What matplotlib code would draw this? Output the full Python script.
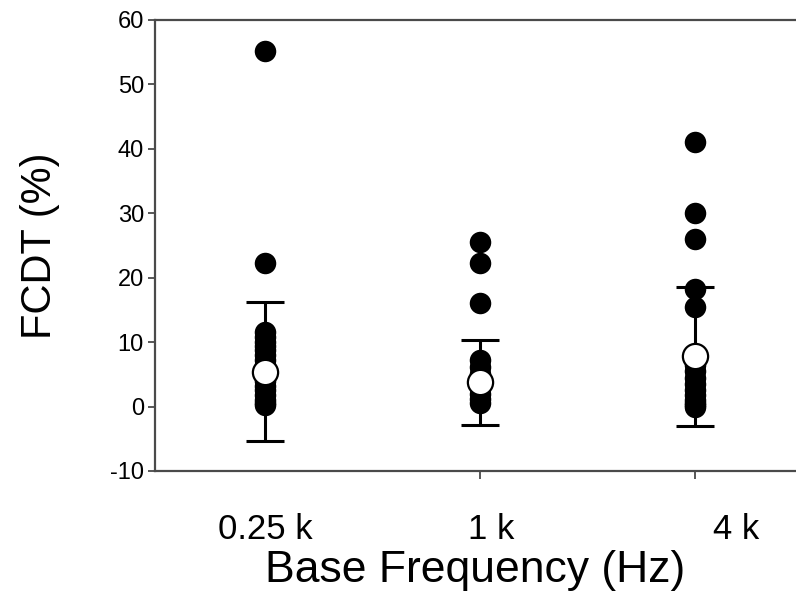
import matplotlib.pyplot as plt

plt.rcParams['font.family'] = ['Liberation Sans', 'DejaVu Sans']
plt.rcParams['axes.unicode_minus'] = False

categorias = ['0.25 k', '1 k', '4 k']

# puntos individuales (FCDT %)
puntos_025k = [55.2, 22.3, 11.5, 10.8, 10.0, 9.4, 8.8, 8.0, 7.3, 6.5, 5.6,
               4.8, 4.0, 3.2, 2.5, 1.8, 1.0, 0.5, 0.2]
puntos_1k = [25.5, 22.3, 16.0, 7.3, 6.2, 5.0, 4.2, 3.0, 2.0, 1.2, 0.5]
puntos_4k = [41.0, 30.0, 26.0, 18.3, 15.5, 6.5, 5.5, 4.5, 3.5, 2.6, 1.8,
             1.0, 0.5, 0.2, 0.0]

medias = [5.4, 3.8, 7.8]
desv = [10.8, 6.6, 10.8]

ylim = (-10, 60)
yticks = [-10, 0, 10, 20, 30, 40, 50, 60]
# posicion de las etiquetas (algo desplazadas respecto a las marcas)
pos_etiquetas = [0.0, 0.05, 0.19]

fig = plt.figure(figsize=(7.96, 5.98), dpi=100)
ax = fig.add_axes([0.1947, 0.2124, 0.8053, 0.7542])

todos = [puntos_025k, puntos_1k, puntos_4k]
for i, pts in enumerate(todos):
    ax.scatter([i] * len(pts), pts, s=240, color='black', zorder=2,
               linewidths=0)

ax.errorbar(range(3), medias, yerr=desv, fmt='none', ecolor='black',
            elinewidth=2.2, capsize=14, capthick=2.2, zorder=3)
ax.scatter(range(3), medias, s=330, facecolor='white', edgecolor='black',
           linewidths=1.6, zorder=4)

ax.set_xlim(-0.512, 2.47)
ax.set_ylim(*ylim)
ax.set_yticks(yticks)
ax.set_xticks(range(3), minor=True)
ax.set_xticks([i + d for i, d in enumerate(pos_etiquetas)])
ax.set_xticklabels(categorias, fontsize=25)
ax.tick_params(axis='y', labelsize=17, length=5, width=1.3, color='#4a4a4a', pad=3)
ax.tick_params(axis='x', which='major', length=0, pad=30)
ax.tick_params(axis='x', which='minor', length=6, width=1.3, color='#4a4a4a')

for lado in ['left', 'top', 'bottom']:
    ax.spines[lado].set_color('#4a4a4a')
    ax.spines[lado].set_linewidth(1.6)
ax.spines['right'].set_visible(False)

ax.set_xlabel('Base Frequency (Hz)', fontsize=32, labelpad=3)
ax.set_ylabel('FCDT (%)', fontsize=30, labelpad=36)

fig.savefig('out.png', dpi=100)
